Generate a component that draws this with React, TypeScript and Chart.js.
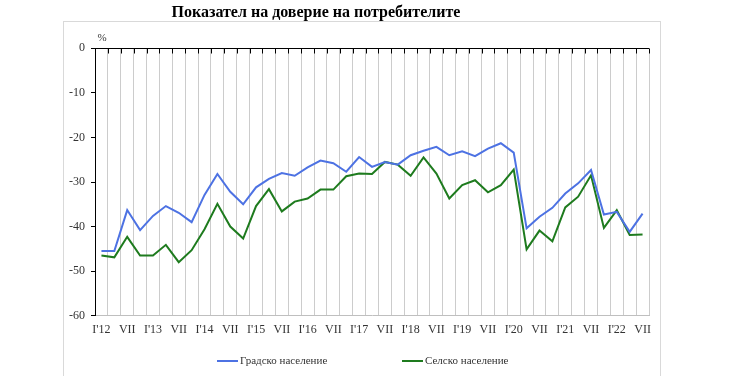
import React, { useEffect, useRef } from "react";
import { Chart, registerables } from "chart.js";

Chart.register(...registerables);

const TITLE = "Показател на доверие на потребителите";
const UNIT = "%";

const categories = [
  "I'12", "IV", "VII", "X",
  "I'13", "IV", "VII", "X",
  "I'14", "IV", "VII", "X",
  "I'15", "IV", "VII", "X",
  "I'16", "IV", "VII", "X",
  "I'17", "IV", "VII", "X",
  "I'18", "IV", "VII", "X",
  "I'19", "IV", "VII", "X",
  "I'20", "IV", "VII", "X",
  "I'21", "IV", "VII", "X",
  "I'22", "IV", "VII",
];

const urbanLabel = "Градско население";
const urban = [
  -45.5, -45.5, -36.3, -40.8, -37.6, -35.4, -36.9, -39.0, -32.9, -28.2,
  -32.2, -35.0, -31.2, -29.3, -28.0, -28.6, -26.7, -25.2, -25.8, -27.7,
  -24.4, -26.6, -25.5, -26.1, -24.0, -23.0, -22.1, -24.0, -23.1, -24.2,
  -22.5, -21.3, -23.4, -40.4, -37.8, -35.8, -32.6, -30.3, -27.3, -37.3,
  -36.7, -41.2, -37.1,
];

const ruralLabel = "Селско население";
const rural = [
  -46.5, -46.9, -42.3, -46.5, -46.5, -44.1, -48.0, -45.3, -40.6, -34.9,
  -40.0, -42.7, -35.4, -31.6, -36.6, -34.4, -33.7, -31.7, -31.7, -28.7,
  -28.1, -28.2, -25.5, -26.1, -28.6, -24.5, -28.1, -33.7, -30.7, -29.6,
  -32.3, -30.7, -27.2, -45.1, -40.9, -43.3, -35.7, -33.3, -28.5, -40.3,
  -36.3, -41.9, -41.8,
];

const yMin = -60;
const yMax = 0;
const yStep = 10;

const BLUE = "#4d72e3";
const GREEN = "#1e7b1e";
const SERIF = "'Liberation Serif', 'Times New Roman', serif";
const TEXT = "#333333";

const decorPlugin = {
  id: "decor",
  beforeDraw(chart: any) {
    const { ctx } = chart;
    ctx.save();
    ctx.fillStyle = "#ffffff";
    ctx.fillRect(0, 0, chart.width, chart.height);
    ctx.strokeStyle = "#d9d9d9";
    ctx.lineWidth = 1;
    ctx.strokeRect(63.5, 21.5, 597, 400);
    ctx.restore();
  },
  afterDraw(chart: any) {
    const { ctx, chartArea: ca, scales } = chart;
    const xs = scales.x;
    const n = categories.length;
    const step = xs.getPixelForValue(1) - xs.getPixelForValue(0);
    const first = xs.getPixelForValue(0) - step / 2;
    ctx.save();
    // top axis line (value 0) with tick marks pointing into plot
    ctx.strokeStyle = "#000000";
    ctx.lineWidth = 1;
    const ty = Math.round(ca.top) + 0.5;
    ctx.beginPath();
    ctx.moveTo(ca.left, ty);
    ctx.lineTo(ca.right, ty);
    for (let i = 0; i <= n; i++) {
      const px = Math.round(first + i * step) + 0.5;
      ctx.moveTo(px, ty);
      ctx.lineTo(px, ty + 5);
    }
    ctx.stroke();

    // title
    ctx.fillStyle = "#000000";
    ctx.font = `bold 16px ${SERIF}`;
    ctx.textAlign = "center";
    ctx.textBaseline = "middle";
    ctx.fillText(TITLE, 316, 13);

    // unit
    ctx.fillStyle = TEXT;
    ctx.font = `11px ${SERIF}`;
    ctx.fillText(UNIT, 102, 38);

    // legend
    const items = [
      { label: urbanLabel, color: BLUE, x: 217 },
      { label: ruralLabel, color: GREEN, x: 402 },
    ];
    const ly = 361;
    items.forEach((it) => {
      ctx.strokeStyle = it.color;
      ctx.lineWidth = 2;
      ctx.beginPath();
      ctx.moveTo(it.x, ly);
      ctx.lineTo(it.x + 21, ly);
      ctx.stroke();
      ctx.fillStyle = TEXT;
      ctx.font = `11px ${SERIF}`;
      ctx.textAlign = "left";
      ctx.textBaseline = "middle";
      ctx.fillText(it.label, it.x + 23, ly);
    });
    ctx.restore();
  },
};

export default function App() {
  const ref = useRef<HTMLCanvasElement | null>(null);

  useEffect(() => {
    if (!ref.current) return;
    const chart = new Chart(ref.current, {
      type: "line",
      data: {
        labels: categories,
        datasets: [
          {
            label: urbanLabel,
            data: urban,
            borderColor: BLUE,
            backgroundColor: BLUE,
            borderWidth: 2,
            pointRadius: 0,
            tension: 0,
          },
          {
            label: ruralLabel,
            data: rural,
            borderColor: GREEN,
            backgroundColor: GREEN,
            borderWidth: 2,
            pointRadius: 0,
            tension: 0,
          },
        ],
      },
      options: {
        animation: false,
        responsive: false,
        maintainAspectRatio: false,
        layout: { padding: { left: 0, top: 48.3, right: 91, bottom: 0 } },
        plugins: {
          legend: { display: false },
          title: { display: false },
          tooltip: { enabled: false },
        },
        scales: {
          x: {
            type: "category",
            offset: true,
            grid: {
              offset: true,
              color: "#cccccc",
              lineWidth: 1,
              drawTicks: false,
            },
            border: { color: "#bfbfbf", width: 1 },
            ticks: {
              autoSkip: false,
              maxRotation: 0,
              minRotation: 0,
              padding: 7,
              color: TEXT,
              font: { family: SERIF, size: 12 },
              callback: (_v: any, i: number) => (i % 2 === 0 ? categories[i] : ""),
            },
            afterFit: (s: any) => {
              s.height = 60.3;
            },
          },
          y: {
            min: yMin,
            max: yMax,
            grid: {
              drawOnChartArea: false,
              drawTicks: true,
              tickLength: 4,
              color: "#000000",
            },
            border: { color: "#000000", width: 1 },
            ticks: {
              stepSize: yStep,
              padding: 6,
              color: TEXT,
              font: { family: SERIF, size: 12 },
            },
            afterFit: (s: any) => {
              s.width = 95;
            },
          },
        },
      },
      plugins: [decorPlugin],
    });
    return () => chart.destroy();
  }, []);

  return (
    <div style={{ position: "absolute", left: 0, top: 0, width: 740, height: 376 }}>
      <canvas ref={ref} width={740} height={376} style={{ display: "block" }} />
    </div>
  );
}
